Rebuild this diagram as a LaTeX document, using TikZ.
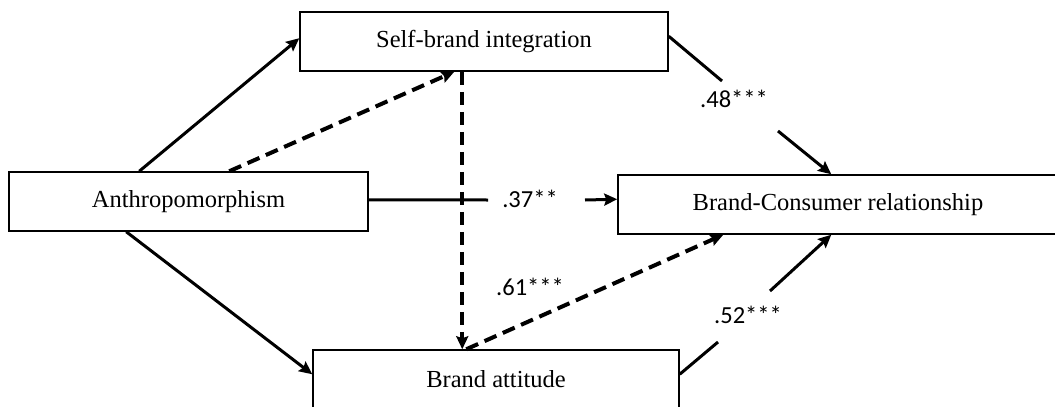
\documentclass[tikz,border=0pt]{standalone}
\usepackage{fontspec}
\setmainfont{Liberation Serif}
\newfontfamily\lblfont{Carlito}
\usetikzlibrary{arrows.meta,calc}
\begin{document}
\begin{tikzpicture}[x=1pt,y=-1pt,
  box/.style={draw,line width=1.5pt,minimum height=59pt,inner sep=0pt,font=\fontsize{24.5}{29}\selectfont},
  tip/.style={-{Stealth[length=13pt,width=12pt,inset=2pt]}},
  plain/.style={line width=3pt},
  conn/.style={plain,tip},
  dsh/.style={line width=4pt,dash pattern=on 13pt off 7pt},
  dconn/.style={dsh,tip},
  lbl/.style={font=\lblfont\fontsize{24.5}{29}\selectfont,inner sep=0pt}]
\useasboundingbox (0,0) rectangle (1055,407);
\begin{scope}
\clip (0,0) rectangle (1055,407);
\node[box,minimum width=368pt] (sbi) at (484,41.5) {Self-brand integration};
\node[box,minimum width=359pt] (anth) at (188.5,201.5) {Anthropomorphism};
\node[box,minimum width=440pt] (bcr) at (838,204.5) {Brand-Consumer relationship};
\node[box,minimum width=366pt] (att) at (496,379.5) {Brand attitude};
\end{scope}
% labels
\node[lbl] (l37) at (530,199) {.37**};
\node[lbl] (l48) at (734,99) {.48***};
\node[lbl] (l61) at (530,287) {.61***};
\node[lbl] (l52) at (748,315) {.52***};
% break coordinates
\coordinate (a37) at (488,200);
\coordinate (b37) at (585,200);
\coordinate (a48) at (722,81);
\coordinate (b48) at (778,131);
\coordinate (a52) at (718,342);
\coordinate (b52) at (770,291);
% solid connectors
\draw[conn] ($(anth.north west)+(131,0)$) -- ($(sbi.north west)+(0,27)$);
\draw[conn] ($(anth.south west)+(118,0)$) -- ($(att.north west)+(0,25)$);
\draw[plain] ($(anth.north east)+(0,28.5)$) -- (a37);
\draw[conn] (b37) -- ($(bcr.north west)+(0,25)$);
\draw[plain] ($(sbi.north east)+(0,25)$) -- (a48);
\draw[conn] (b48) -- ($(bcr.north west)+(214,0)$);
\draw[plain] ($(att.north east)+(0,25)$) -- (a52);
\draw[conn] (b52) -- ($(bcr.south west)+(214,0)$);
% dashed connectors
\draw[dconn] ($(anth.north west)+(221,0)$) -- ($(sbi.south west)+(155,0)$);
\draw[dconn] ($(sbi.south west)+(163,0)$) -- ($(att.north west)+(150,0)$);
\draw[dconn] ($(att.north west)+(154,0)$) -- ($(bcr.south west)+(106,0)$);
\end{tikzpicture}
\end{document}
